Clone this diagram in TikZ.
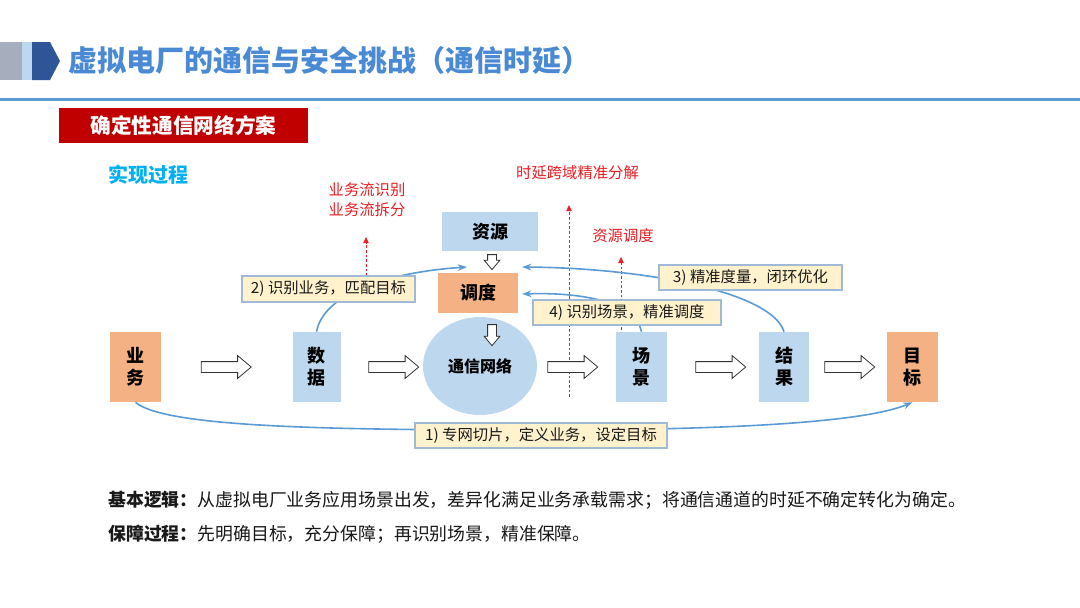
\documentclass[tikz,border=0pt]{standalone}
\usepackage{fontspec}
\setmainfont{Noto Sans CJK SC}
\usetikzlibrary{shapes.arrows,shapes.geometric,arrows.meta,calc}
\definecolor{ttl}{RGB}{74,138,212}
\definecolor{lineblue}{RGB}{91,155,213}
\definecolor{lb}{RGB}{189,215,238}
\definecolor{org}{RGB}{244,177,131}
\definecolor{darkred}{RGB}{192,0,0}
\definecolor{cyanT}{RGB}{0,176,240}
\definecolor{redT}{RGB}{235,30,35}
\definecolor{lbl}{RGB}{255,242,204}
\definecolor{lblb}{RGB}{160,185,215}
\definecolor{hgray}{RGB}{166,173,188}
\definecolor{hdark}{RGB}{46,85,151}
\definecolor{txt}{RGB}{25,25,25}
\tikzset{
  box/.style={draw=none,rectangle,inner sep=0pt,align=center,text=black,font=\fontsize{13.5}{16.5}\selectfont\bfseries},
  bluebox/.style={box,fill=lb},
  orgbox/.style={box,fill=org},
  lblbox/.style={draw=lblb,line width=0.8pt,fill=lbl,inner sep=0pt,text=txt,font=\fontsize{11.5}{13}\selectfont},
  harrow/.style={draw=black!80,fill=white,line width=0.6pt,single arrow,inner xsep=0pt,inner ysep=3.75pt,minimum height=37.5pt,single arrow head extend=4.5pt,single arrow tip angle=80},
  darrow/.style={draw=black!80,fill=white,line width=0.6pt,single arrow,inner xsep=0pt,inner ysep=3pt,single arrow head extend=2.6pt,single arrow tip angle=80,rotate=-90},
  flow/.style={draw=lineblue,line width=1.2pt,-{Stealth[length=7pt,width=5pt]}},
  reddash/.style={draw=redT,line width=0.6pt,dash pattern=on 2pt off 1.5pt,-{Triangle[length=4.5pt,width=4pt]}},
  redtxt/.style={text=redT,font=\fontsize{11.5}{15}\selectfont,align=center,inner sep=0pt}
}
\begin{document}
\begin{tikzpicture}[x=0.75pt,y=-0.75pt]
\useasboundingbox (0,0) rectangle (1080,607);
\fill[white] (0,0) rectangle (1080,607);
% header decoration
\fill[hgray] (0,42) rectangle (22,80);
\fill[lb] (22,42) rectangle (32,80);
\fill[hdark] (32,42) -- (50,42) -- (60,61) -- (50,80) -- (32,80) -- cycle;
\node[anchor=west,inner sep=0pt,text=ttl,font=\fontsize{21.75}{24}\selectfont\bfseries] (title) at (68,60) {虚拟电厂的通信与安全挑战（通信时延）};
\draw[lineblue,line width=2.25pt] (0,99.5) -- (1080,99.5);
% red banner
\node[fill=darkred,minimum width=186.75pt,minimum height=26.25pt,inner sep=0pt,text=white,font=\fontsize{15.5}{18}\selectfont\bfseries] (banner) at (183.5,125.5) {确定性通信网络方案};
\node[anchor=west,inner sep=0pt,text=cyanT,font=\fontsize{15}{18}\selectfont\bfseries] (proc) at (108,175) {实现过程};
% red annotations
\node[redtxt] (rt1) at (367,200) {业务流识别\\业务流拆分};
\node[redtxt] (rt2) at (577.5,173) {时延跨域精准分解};
\node[redtxt] (rt3) at (623,236) {资源调度};
\coordinate (r1a) at (366,276); \coordinate (r1b) at (366,237);
\coordinate (r2a) at (569,397); \coordinate (r2b) at (569,205);
\coordinate (r3a) at (621,330); \coordinate (r3b) at (621,257);
\draw[reddash] (r1a) -- (r1b);
\draw[reddash] (r2a) -- (r2b);
\draw[reddash] (r3a) -- (r3b);
% main nodes
\node[orgbox,minimum width=38.25pt,minimum height=52.5pt] (yw) at (135.5,367) {业\\务};
\node[bluebox,minimum width=36pt,minimum height=52.5pt] (sj) at (316.5,367) {数\\据};
\node[ellipse,fill=lb,inner sep=0pt,minimum width=85.5pt,minimum height=73.5pt,text=black,font=\fontsize{12}{14}\selectfont\bfseries] (net) at (480,366) {通信网络};
\node[bluebox,minimum width=38.25pt,minimum height=52.5pt] (cj) at (641.5,367) {场\\景};
\node[bluebox,minimum width=37.5pt,minimum height=52.5pt] (jg) at (784,367) {结\\果};
\node[orgbox,minimum width=38.25pt,minimum height=52.5pt] (mb) at (912.5,367) {目\\标};
\node[bluebox,minimum width=72pt,minimum height=29.25pt] (zy) at (490,231.5) {资源};
\node[orgbox,minimum width=60pt,minimum height=30pt] (dd) at (478,293) {调度};
% hollow arrows
\node[harrow] (a1) at (223,367) {};
\node[harrow] (a2) at (390.5,367) {};
\node[harrow] (a3) at (569.5,367) {};
\node[harrow] (a4) at (717.5,367) {};
\node[harrow] (a5) at (846.5,367) {};
\node[darrow,minimum height=11.25pt] (d1) at (492,259.5) {};
\node[darrow,minimum height=15.75pt] (d2) at (492,332.5) {};
% blue flows
\coordinate (t2) at (467,267);
\coordinate (t3) at (522,267);
\coordinate (t4) at (522,294);
\draw[flow] (sj.north) .. controls (324,292) and (392,272) .. (t2);
\draw[flow] (jg.north) .. controls (772,292) and (645,268) .. (t3);
\draw[flow] (cj.north) .. controls (636,302) and (582,292) .. (t4);
\draw[flow] (yw.south) .. controls (165,428) and (340,430) .. (541,430) .. controls (760,430) and (870,420) .. (mb.south);
% labels
\node[lblbox,minimum width=129.75pt,minimum height=19.5pt] (l2) at (328.5,289) {2) 识别业务，匹配目标};
\node[lblbox,minimum width=141pt,minimum height=18.75pt] (l4) at (627,312.5) {4) 识别场景，精准调度};
\node[lblbox,minimum width=137.25pt,minimum height=18.75pt] (l3) at (750.5,277.5) {3) 精准度量，闭环优化};
\node[lblbox,minimum width=189pt,minimum height=18.75pt] (l1) at (541,435.5) {1) 专网切片，定义业务，设定目标};
% bottom text
\node[anchor=west,inner sep=0pt,text=txt,font=\fontsize{13.4}{16}\selectfont] (b1) at (108,500) {\textbf{基本逻辑：}从虚拟电厂业务应用场景出发，差异化满足业务承载需求；将通信通道的时延不确定转化为确定。};
\node[anchor=west,inner sep=0pt,text=txt,font=\fontsize{13.4}{16}\selectfont] (b2) at (108,534) {\textbf{保障过程：}先明确目标，充分保障；再识别场景，精准保障。};
\end{tikzpicture}
\end{document}
